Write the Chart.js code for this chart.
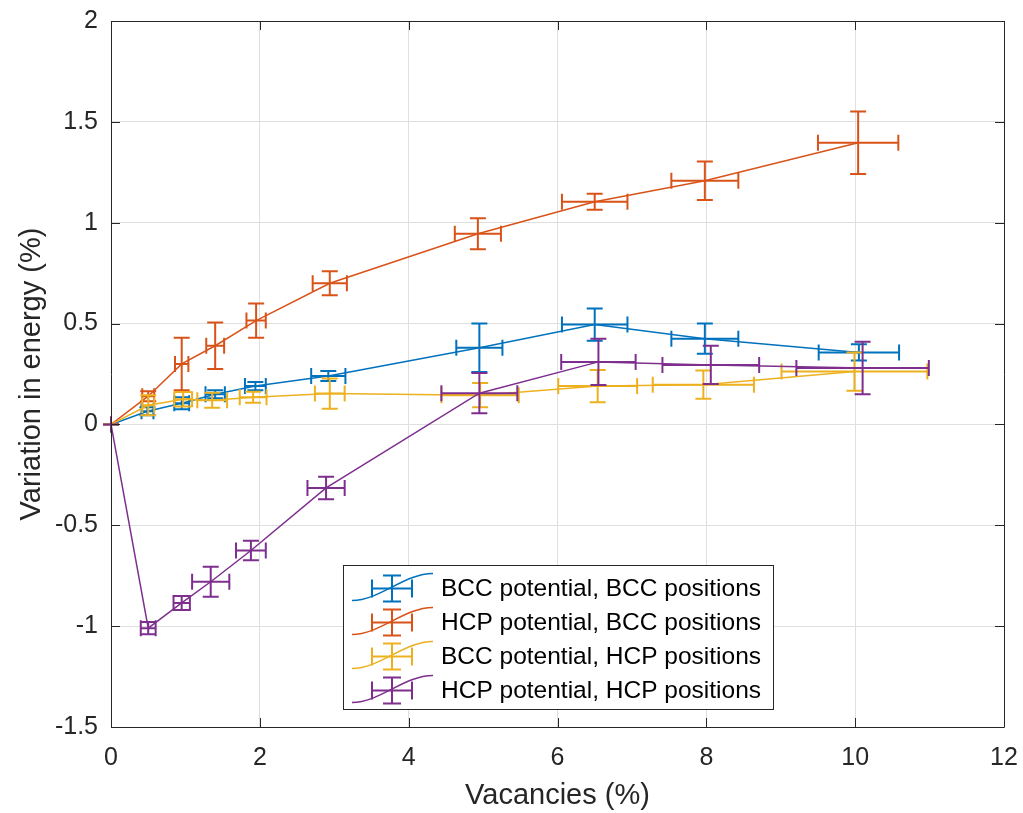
<!DOCTYPE html>
<html>
<head>
<meta charset="utf-8">
<script src="https://cdn.jsdelivr.net/npm/chart.js@4.4.0/dist/chart.umd.min.js"></script>
<style>
  html, body { margin: 0; padding: 0; background: #fff; }
  #wrap { width: 1023px; height: 813px; }
</style>
</head>
<body>
<div id="wrap"><canvas id="energyChart" width="1023" height="813"></canvas></div>
<script>
// Series names (legend order)
const seriesLabels = [
    'BCC potential, BCC positions',
    'HCP potential, BCC positions',
    'BCC potential, HCP positions',
    'HCP potential, HCP positions'
];
const seriesColors = ['#0072BD', '#D95319', '#EDB120', '#7E2F8E'];

// BCC potential, BCC positions
const bccBccX    = [0, 0.49, 0.95, 1.40, 1.94, 2.92, 4.95, 6.50, 7.98, 10.05];
const bccBccY    = [0, 0.065, 0.105, 0.15, 0.19, 0.24, 0.38, 0.495, 0.425, 0.357];
const bccBccXErr = [0, 0.08, 0.10, 0.13, 0.14, 0.23, 0.31, 0.44, 0.45, 0.54];
const bccBccYErr = [0, 0.02, 0.03, 0.02, 0.02, 0.025, 0.12, 0.08, 0.075, 0.04];

// HCP potential, BCC positions
const hcpBccX    = [0, 0.50, 0.95, 1.40, 1.95, 2.94, 4.93, 6.50, 7.98, 10.04];
const hcpBccY    = [0, 0.14, 0.30, 0.39, 0.515, 0.70, 0.945, 1.104, 1.208, 1.396];
const hcpBccXErr = [0, 0.08, 0.09, 0.12, 0.13, 0.23, 0.31, 0.44, 0.45, 0.54];
const hcpBccYErr = [0, 0.025, 0.13, 0.115, 0.085, 0.06, 0.077, 0.04, 0.095, 0.155];

// BCC potential, HCP positions
const bccHcpX    = [0, 0.50, 0.97, 1.36, 1.91, 2.94, 4.96, 6.54, 7.96, 9.99];
const bccHcpY    = [0, 0.095, 0.125, 0.12, 0.135, 0.153, 0.145, 0.19, 0.197, 0.262];
const bccHcpXErr = [0, 0.08, 0.12, 0.20, 0.18, 0.20, 0.52, 0.53, 0.68, 0.98];
const bccHcpYErr = [0, 0.05, 0.036, 0.037, 0.027, 0.075, 0.06, 0.08, 0.07, 0.095];

// HCP potential, HCP positions
const hcpHcpX    = [0, 0.50, 0.95, 1.34, 1.88, 2.89, 4.95, 6.55, 8.06, 10.10];
const hcpHcpY    = [0, -1.01, -0.885, -0.78, -0.625, -0.315, 0.155, 0.31, 0.295, 0.28];
const hcpHcpXErr = [0, 0.10, 0.11, 0.25, 0.20, 0.25, 0.51, 0.50, 0.65, 0.89];
const hcpHcpYErr = [0, 0.03, 0.035, 0.074, 0.048, 0.056, 0.10, 0.115, 0.095, 0.13];

const FONT = "'Liberation Sans', Arial, Helvetica, sans-serif";
const AXIS_COLOR = '#262626';
const GRID_COLOR = '#dfdfdf';
const CAP = 8;

const toPoints = (xs, ys) => xs.map((x, i) => ({ x: x, y: ys[i] }));

const makeDataset = (idx, xs, ys, xErr, yErr) => ({
    label: seriesLabels[idx],
    data: toPoints(xs, ys),
    xErr: xErr,
    yErr: yErr,
    borderColor: seriesColors[idx],
    backgroundColor: seriesColors[idx],
    borderWidth: 1.5,
    showLine: true,
    pointRadius: 0,
    tension: 0,
    order: 4 - idx
});

// plain number labels like "1", "0.5", "-1.5"
const tickLabel = v => String(Math.round(v * 10) / 10);

// draws x/y error bars for one dataset, right after its line
const errorBarPlugin = {
    id: 'errorBars',
    afterDatasetDraw(chart, args) {
        const ds = chart.data.datasets[args.index];
        const xs = chart.scales.x, ys = chart.scales.y;
        const ctx = chart.ctx;
        ctx.save();
        ctx.strokeStyle = ds.borderColor;
        ctx.lineWidth = 2;
        ds.data.forEach((p, i) => {
            const px = xs.getPixelForValue(p.x);
            const py = ys.getPixelForValue(p.y);
            const y0 = ys.getPixelForValue(p.y - ds.yErr[i]);
            const y1 = ys.getPixelForValue(p.y + ds.yErr[i]);
            const x0 = xs.getPixelForValue(p.x - ds.xErr[i]);
            const x1 = xs.getPixelForValue(p.x + ds.xErr[i]);
            ctx.beginPath();
            ctx.moveTo(px, y0); ctx.lineTo(px, y1);
            ctx.moveTo(px - CAP, y0); ctx.lineTo(px + CAP, y0);
            ctx.moveTo(px - CAP, y1); ctx.lineTo(px + CAP, y1);
            ctx.moveTo(x0, py); ctx.lineTo(x1, py);
            ctx.moveTo(x0, py - CAP); ctx.lineTo(x0, py + CAP);
            ctx.moveTo(x1, py - CAP); ctx.lineTo(x1, py + CAP);
            ctx.stroke();
        });
        ctx.restore();
    }
};

// axes box with inward ticks, plus the MATLAB-like legend
const frameLegendPlugin = {
    id: 'frameLegend',
    afterDraw(chart) {
        const ctx = chart.ctx;
        const a = chart.chartArea;
        const xs = chart.scales.x, ys = chart.scales.y;
        const tick = 9;
        ctx.save();
        ctx.strokeStyle = AXIS_COLOR;
        ctx.lineWidth = 1;
        ctx.beginPath();
        ctx.rect(Math.round(a.left) + 0.5, Math.round(a.top) + 0.5,
                 Math.round(a.right - a.left), Math.round(a.bottom - a.top));
        xs.ticks.forEach(t => {
            const x = Math.round(xs.getPixelForValue(t.value)) + 0.5;
            ctx.moveTo(x, a.bottom); ctx.lineTo(x, a.bottom - tick);
            ctx.moveTo(x, a.top); ctx.lineTo(x, a.top + tick);
        });
        ys.ticks.forEach(t => {
            const y = Math.round(ys.getPixelForValue(t.value)) + 0.5;
            ctx.moveTo(a.left, y); ctx.lineTo(a.left + tick, y);
            ctx.moveTo(a.right, y); ctx.lineTo(a.right - tick, y);
        });
        ctx.stroke();

        // legend
        const bx = 343.5, by = 565.5, bw = 430, bh = 144;
        ctx.fillStyle = '#fff';
        ctx.fillRect(bx, by, bw, bh);
        ctx.strokeRect(bx, by, bw, bh);
        ctx.font = '24.5px ' + FONT;
        ctx.textBaseline = 'middle';
        ctx.textAlign = 'left';
        chart.data.datasets.forEach((ds, i) => {
            const ry = by + 23 + i * 34;
            const cx = 392;
            ctx.strokeStyle = ds.borderColor;
            ctx.lineWidth = 1.5;
            ctx.beginPath();
            ctx.moveTo(352, ry + 12);
            ctx.bezierCurveTo(380, ry + 12, 404, ry - 15, 433, ry - 15);
            ctx.stroke();
            ctx.lineWidth = 2;
            ctx.beginPath();
            ctx.moveTo(cx, ry - 13); ctx.lineTo(cx, ry + 13);
            ctx.moveTo(cx - 9, ry - 13); ctx.lineTo(cx + 9, ry - 13);
            ctx.moveTo(cx - 9, ry + 13); ctx.lineTo(cx + 9, ry + 13);
            ctx.moveTo(cx - 20, ry); ctx.lineTo(cx + 20, ry);
            ctx.moveTo(cx - 20, ry - 9); ctx.lineTo(cx - 20, ry + 9);
            ctx.moveTo(cx + 20, ry - 9); ctx.lineTo(cx + 20, ry + 9);
            ctx.stroke();
            ctx.fillStyle = '#000';
            ctx.fillText(ds.label, 441, ry + 1);
        });
        ctx.restore();
    }
};

const bgPlugin = {
    id: 'bg',
    beforeDraw(chart) {
        const ctx = chart.ctx;
        ctx.save();
        ctx.fillStyle = '#fff';
        ctx.fillRect(0, 0, chart.width, chart.height);
        ctx.restore();
    }
};

const ctx = document.getElementById('energyChart').getContext('2d');
const energyChart = new Chart(ctx, {
    type: 'scatter',
    data: {
        datasets: [
            makeDataset(0, bccBccX, bccBccY, bccBccXErr, bccBccYErr),
            makeDataset(1, hcpBccX, hcpBccY, hcpBccXErr, hcpBccYErr),
            makeDataset(2, bccHcpX, bccHcpY, bccHcpXErr, bccHcpYErr),
            makeDataset(3, hcpHcpX, hcpHcpY, hcpHcpXErr, hcpHcpYErr)
        ]
    },
    options: {
        responsive: false,
        animation: false,
        layout: { padding: { top: 21, right: 19, left: 0, bottom: 0 } },
        plugins: {
            legend: { display: false },
            tooltip: { enabled: false }
        },
        scales: {
            x: {
                type: 'linear',
                min: 0,
                max: 12,
                ticks: {
                    stepSize: 2,
                    color: AXIS_COLOR,
                    font: { family: FONT, size: 25 },
                    padding: 16,
                    maxRotation: 0,
                    callback: tickLabel
                },
                grid: { color: GRID_COLOR, drawTicks: false },
                border: { display: false },
                title: {
                    display: true,
                    text: 'Vacancies (%)',
                    color: AXIS_COLOR,
                    font: { family: FONT, size: 29 },
                    padding: { top: 0, bottom: 0 }
                },
                afterFit: s => { s.height = 86; s.paddingLeft = 0; s.paddingRight = 0; }
            },
            y: {
                type: 'linear',
                min: -1.5,
                max: 2,
                ticks: {
                    stepSize: 0.5,
                    color: AXIS_COLOR,
                    font: { family: FONT, size: 25 },
                    padding: 13,
                    callback: tickLabel
                },
                grid: { color: GRID_COLOR, drawTicks: false },
                border: { display: false },
                title: {
                    display: true,
                    text: 'Variation in energy (%)',
                    color: AXIS_COLOR,
                    font: { family: FONT, size: 29 },
                    padding: { top: 15, bottom: 0 }
                },
                afterFit: s => { s.width = 111; s.paddingTop = 0; s.paddingBottom = 0; }
            }
        }
    },
    plugins: [bgPlugin, errorBarPlugin, frameLegendPlugin]
});
</script>
</body>
</html>
